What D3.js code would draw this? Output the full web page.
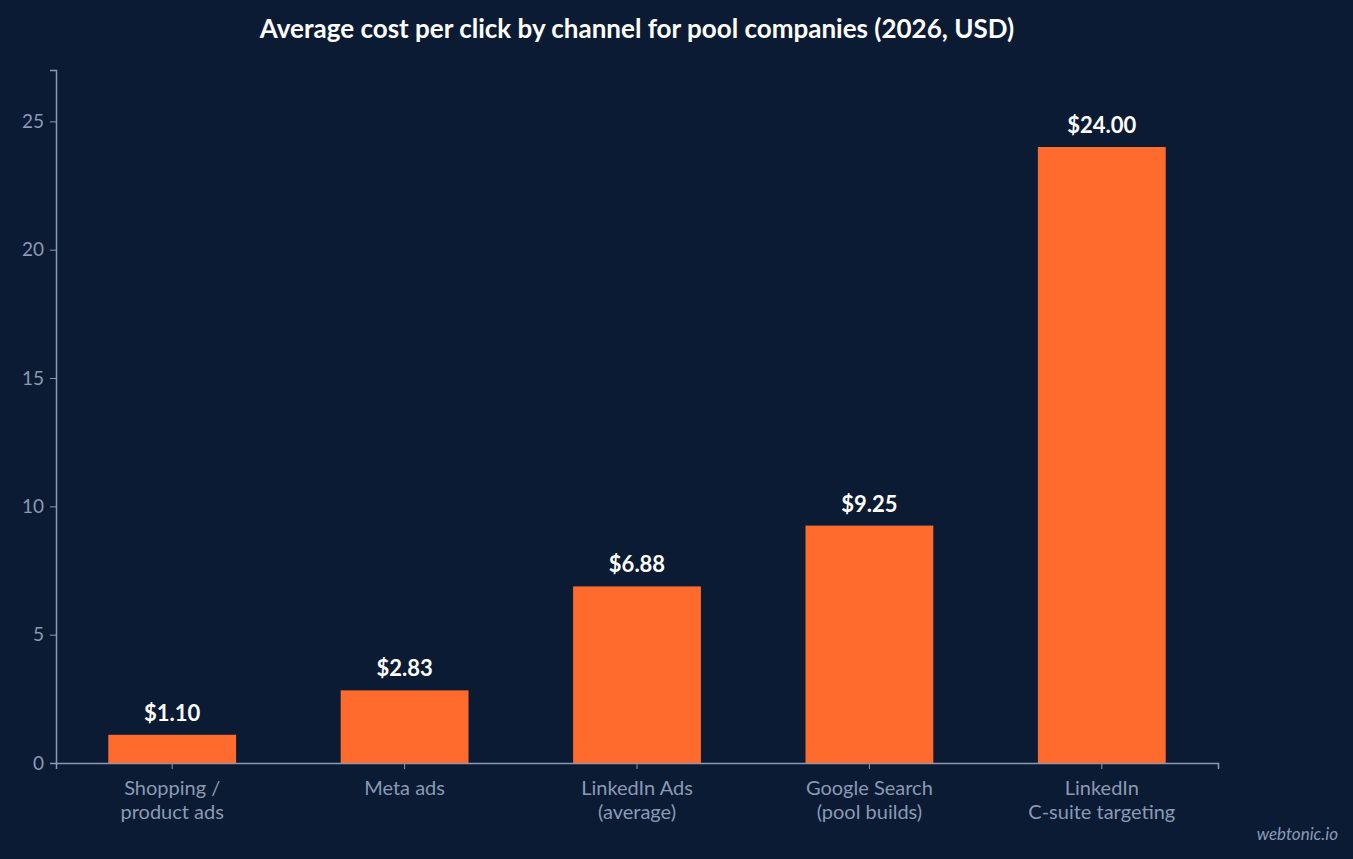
<!DOCTYPE html>
<html><head><meta charset="utf-8">
<script src="https://cdn.jsdelivr.net/npm/d3@7"></script>
<style>
body{margin:0;background:#0b1b33;}
svg{display:block;font-family:Lato,sans-serif;}
</style></head><body>
<svg id="chart" width="1353" height="859"></svg>
<script>
var categories = [["Shopping /","product ads"],["Meta ads"],["LinkedIn Ads","(average)"],["Google Search","(pool builds)"],["LinkedIn","C-suite targeting"]];
var values = [1.10, 2.83, 6.88, 9.25, 24.00];
var yTicks = [0, 5, 10, 15, 20, 25];

var svg = d3.select('svg#chart');
var margin = {left: 56, right: 135, top: 70, bottom: 96};
var W = 1353, H = 859;

svg.append('rect').attr('width', W).attr('height', H).attr('fill', '#0b1b33');

var x = d3.scaleBand().domain(d3.range(categories.length))
    .range([margin.left, W - margin.right]).paddingInner(0.45).paddingOuter(0.225);
var y = d3.scaleLinear().domain([0, 27]).range([H - margin.bottom, margin.top]);

// axes
var yAxis = svg.append('g').attr('transform', 'translate(' + margin.left + ',0)')
    .call(d3.axisLeft(y).tickValues(yTicks).tickSize(6).tickPadding(6));
var xAxis = svg.append('g').attr('transform', 'translate(0,' + y(0) + ')')
    .call(d3.axisBottom(x).tickSize(6).tickFormat(''));
[yAxis, xAxis].forEach(function(a){
    a.selectAll('path,line').attr('stroke', '#8a9ab5');
    a.select('.domain').attr('stroke-width', 1.5);
});
yAxis.selectAll('text').attr('fill', '#8a9ab5').style('font-size', '19px').style('font-family', 'Lato');

// category labels
categories.forEach(function(lines, i){
    var t = svg.append('text').attr('text-anchor', 'middle').attr('fill', '#8a9ab5')
        .style('font-size', '20px');
    lines.forEach(function(l, j){
        t.append('tspan').attr('x', x(i) + x.bandwidth() / 2).attr('y', y(0) + 32 + j * 24).text(l);
    });
});

// bars
svg.selectAll('rect.bar').data(values).enter().append('rect').attr('class', 'bar')
    .attr('x', function(d, i){ return x(i); })
    .attr('y', function(d){ return y(d); })
    .attr('width', x.bandwidth())
    .attr('height', function(d){ return y(0) - y(d); })
    .attr('fill', '#ff6b2c');

svg.selectAll('text.val').data(values).enter().append('text').attr('class', 'val')
    .attr('x', function(d, i){ return x(i) + x.bandwidth() / 2; })
    .attr('y', function(d){ return y(d) - 14; })
    .attr('text-anchor', 'middle').attr('fill', '#ffffff')
    .style('font-size', '22px').style('font-weight', 'bold')
    .text(function(d){ return '$' + d.toFixed(2); });

svg.append('text').attr('x', 637).attr('y', 38).attr('text-anchor', 'middle')
    .attr('fill', '#ffffff').style('font-size', '26px').style('font-weight', 'bold')
    .text('Average cost per click by channel for pool companies (2026, USD)');

svg.append('text').attr('x', 1338).attr('y', 840).attr('text-anchor', 'end')
    .attr('fill', '#8a9ab5').style('font-size', '17px').style('font-style', 'italic')
    .text('webtonic.io');
</script>
</body></html>
